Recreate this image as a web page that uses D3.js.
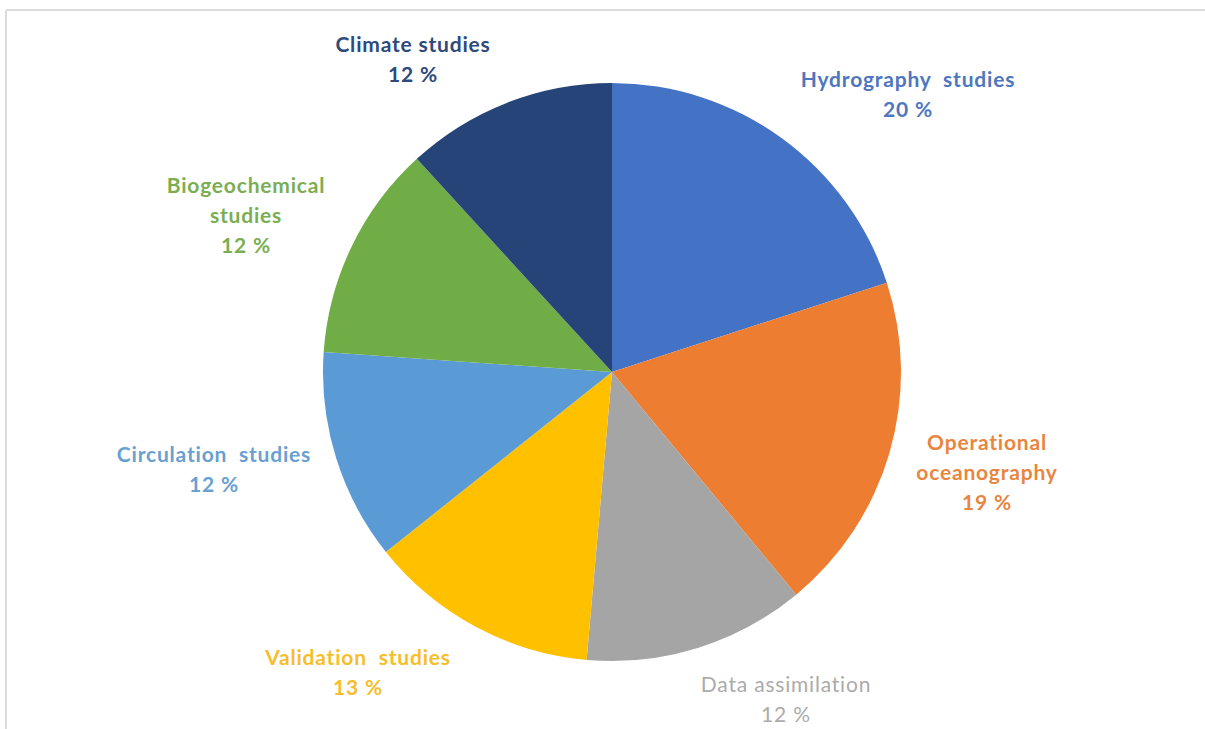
<!DOCTYPE html>
<html>
<head>
<meta charset="utf-8">
<script src="https://cdn.jsdelivr.net/npm/d3@7"></script>
<style>
  body { margin: 0; background: #fff; }
  svg { display: block; }
</style>
</head>
<body>
<div id="chart"></div>
<script>
// slice names, clockwise from 12 o'clock
var categories = [
  "Hydrography studies",
  "Operational oceanography",
  "Data assimilation",
  "Validation studies",
  "Circulation studies",
  "Biogeochemical studies",
  "Climate studies"
];
// shares (labels show them rounded)
var shares = [20, 19, 12.4, 12.9, 11.8, 12.1, 11.8];

// label lines as they are broken in the picture
var labelLines = [
  ["Hydrography  studies"],
  ["Operational", "oceanography"],
  ["Data assimilation"],
  ["Validation  studies"],
  ["Circulation  studies"],
  ["Biogeochemical", "studies"],
  ["Climate studies"]
];

var sliceColors = ["#4472C4", "#ED7D31", "#A5A5A5", "#FFC000", "#5B9BD5", "#70AD47", "#264478"];
var textColors  = ["#4F76C0", "#E8863F", "#ABABAB", "#F5BE2A", "#6A9FD2", "#7BAE52", "#2E4A7C"];

var width = 1205, height = 729;
var cx = 612, cy = 372, radius = 289;
var lineH = 30;

// where each label block sits (its top line centre), relative to the pie centre
var labelOffset = [
  [296, -292],
  [375, 71],
  [174, 313],
  [-254, 286],
  [-398, 83],
  [-366, -186],
  [-199, -327]
];

var svg = d3.select("#chart").append("svg")
  .attr("width", width)
  .attr("height", height);

// frame of the pasted chart
svg.append("line")
  .attr("x1", 6).attr("y1", 10).attr("x2", width).attr("y2", 10)
  .style("stroke", "#dcdcdc").style("stroke-width", 2);
svg.append("line")
  .attr("x1", 6).attr("y1", 10).attr("x2", 6).attr("y2", height)
  .style("stroke", "#dcdcdc").style("stroke-width", 2);

var data = categories.map(function(c, i){ return {name: c, value: shares[i], i: i}; });

var pie = d3.pie()
  .sort(null)
  .value(function(d){ return d.value; });

var arc = d3.arc()
  .innerRadius(0)
  .outerRadius(radius);

var g = svg.append("g")
  .attr("transform", "translate(" + cx + "," + cy + ")");

g.selectAll("path")
  .data(pie(data))
  .enter()
  .append("path")
  .attr("d", arc)
  .style("fill", function(d){ return sliceColors[d.data.i]; });

var labels = g.selectAll("text.lbl")
  .data(data)
  .enter()
  .append("text")
  .attr("class", "lbl")
  .attr("text-anchor", "middle")
  .style("font-family", "Lato, 'Open Sans', sans-serif")
  .style("font-size", "21px")
  .style("letter-spacing", "0.8px")
  .style("font-weight", function(d){ return d.i == 2 ? 400 : 700; })
  .style("fill", function(d){ return textColors[d.i]; })
  .style("white-space", "pre");

labels.each(function(d){
  var t = d3.select(this);
  var lines = labelLines[d.i].concat([Math.round(d.value) + " %"]);
  var ox = labelOffset[d.i][0], oy = labelOffset[d.i][1];
  lines.forEach(function(l, k){
    t.append("tspan")
      .attr("x", ox)
      .attr("y", oy + k * lineH)
      .attr("dy", "0.35em")
      .text(l);
  });
});
</script>
</body>
</html>
